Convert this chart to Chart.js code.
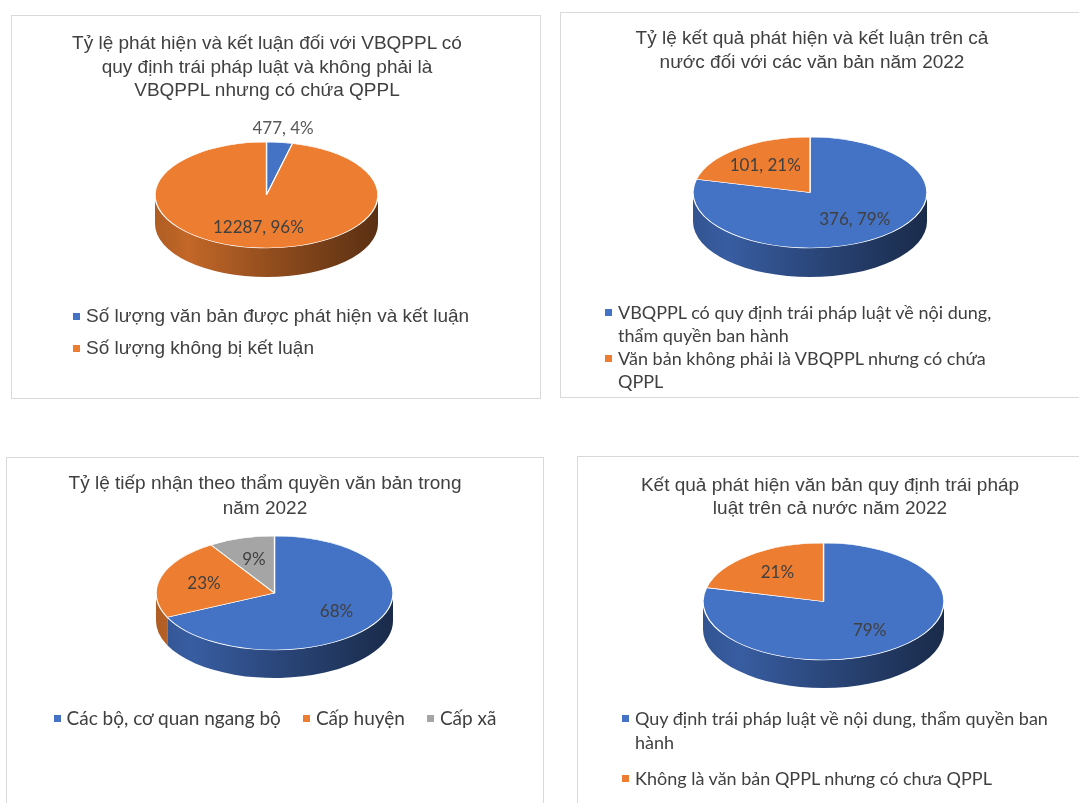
<!DOCTYPE html>
<html>
<head>
<meta charset="utf-8">
<script src="https://cdn.jsdelivr.net/npm/chart.js@4.4.1/dist/chart.umd.min.js"></script>
<style>
  html, body { margin: 0; padding: 0; background: #fff; width: 1079px; height: 803px; overflow: hidden; position: relative; }
  .panel { position: absolute; border: 1px solid #d9d9d9; box-sizing: border-box; background: #fff; overflow: hidden; }
  .panel canvas { position: absolute; left: 0; top: 0; }
  .title { position: absolute; text-align: center; color: #404040; font-family: "Liberation Sans", Arial, sans-serif; font-size: 19px; white-space: nowrap; }
  .legend { position: absolute; color: #404040; display: flex; }
  .legend .item { display: flex; align-items: flex-start; }
  .legend .mark { width: 7px; height: 7px; flex: none; margin-right: 6px; }
</style>
</head>
<body>
<script>
// Chart data
const chart1Title = ['Tỷ lệ phát hiện và kết luận đối với VBQPPL có', 'quy định trái pháp luật và không phải là', 'VBQPPL nhưng có chứa QPPL'];
const chart1Labels = ['Số lượng văn bản được phát hiện và kết luận', 'Số lượng không bị kết luận'];
const chart1Values = [477, 12287];

const chart2Title = ['Tỷ lệ kết quả phát hiện và kết luận trên cả', 'nước đối với các văn bản năm 2022'];
const chart2Labels = ['VBQPPL có quy định trái pháp luật về nội dung, thẩm quyền ban hành', 'Văn bản không phải là VBQPPL nhưng có chứa QPPL'];
const chart2Values = [376, 101];

const chart3Title = ['Tỷ lệ tiếp nhận theo thẩm quyền văn bản trong', 'năm 2022'];
const chart3Labels = ['Các bộ, cơ quan ngang bộ', 'Cấp huyện', 'Cấp xã'];
const chart3Values = [68, 23, 9];

const chart4Title = ['Kết quả phát hiện văn bản quy định trái pháp', 'luật trên cả nước năm 2022'];
const chart4Labels = ['Quy định trái pháp luật về nội dung, thẩm quyền ban hành', 'Không là văn bản QPPL nhưng có chưa QPPL'];
const chart4Values = [376, 101];

const sliceColors = ['#4472C4', '#ED7D31', '#A5A5A5'];

// darken a hex colour
function shade(hex, f) {
  const n = parseInt(hex.slice(1), 16);
  return 'rgb(' + Math.round((n >> 16 & 255) * f) + ',' + Math.round((n >> 8 & 255) * f) + ',' + Math.round((n & 255) * f) + ')';
}

// Fake 3D pie: draw the side walls, then squash the library's arcs into an ellipse
const pie3d = {
  id: 'pie3d',
  beforeDatasetsDraw(chart, args, opts) {
    const a = chart.chartArea;
    const ctx = chart.ctx;
    const depth = opts.depth;
    const rx = (a.right - a.left) / 2;
    const ry = (a.bottom - a.top - depth) / 2;
    const ex = (a.left + a.right) / 2;
    const ey = a.top + ry;
    chart.$ell = { rx, ry, ex, ey };
    const meta = chart.getDatasetMeta(0);
    const colors = chart.data.datasets[0].backgroundColor;

    meta.data.forEach((arc, i) => {
      const lo = Math.max(arc.startAngle, 0);
      const hi = Math.min(arc.endAngle, Math.PI);
      if (hi <= lo) return;
      const g = ctx.createLinearGradient(ex - rx, 0, ex + rx, 0);
      g.addColorStop(0, shade(colors[i], 0.74));
      g.addColorStop(0.15, shade(colors[i], 0.82));
      g.addColorStop(0.55, shade(colors[i], 0.6));
      g.addColorStop(1, shade(colors[i], 0.38));
      ctx.beginPath();
      ctx.ellipse(ex, ey, rx, ry, 0, lo, hi);
      ctx.ellipse(ex, ey + depth, rx, ry, 0, hi, lo, true);
      ctx.closePath();
      ctx.fillStyle = g;
      ctx.fill();
    });

    const arc0 = meta.data[0];
    ctx.save();
    ctx.translate(ex, ey);
    ctx.scale(rx / arc0.outerRadius, ry / arc0.outerRadius);
    ctx.translate(-arc0.x, -arc0.y);
  },
  afterDatasetsDraw(chart, args, opts) {
    const ctx = chart.ctx;
    ctx.restore();
    const { rx, ry, ex, ey } = chart.$ell;
    const values = chart.data.datasets[0].data;
    const total = values.reduce((s, v) => s + v, 0);
    const meta = chart.getDatasetMeta(0);
    ctx.save();
    ctx.font = '17px Lato, "Liberation Sans", sans-serif';
    ctx.textAlign = 'center';
    ctx.textBaseline = 'middle';
    meta.data.forEach((arc, i) => {
      const pct = Math.round(values[i] / total * 100);
      const mid = (arc.startAngle + arc.endAngle) / 2;
      const outside = pct < 5;
      const k = outside ? 1.27 : 0.62;
      const text = opts.showValue ? values[i] + ', ' + pct + '%' : pct + '%';
      ctx.fillStyle = outside ? '#595959' : '#404040';
      ctx.fillText(text, ex + k * rx * Math.cos(mid), ey + k * ry * Math.sin(mid));
    });
    ctx.restore();
  }
};

// panel layout (positions / styles only)
const panels = [
  { title: chart1Title, labels: chart1Labels, values: chart1Values, showValue: true,
    box: [11, 15, 530, 384], pad: { left: 143, top: 126, right: 162, bottom: 121 }, depth: 29,
    titleX: 255, titleTop: 15, titleLH: 23.5,
    legend: { dir: 'column', left: 61, top: 288, font: '19px "Liberation Sans", Arial, sans-serif', lh: 24, gap: 8, maxw: 460 } },
  { title: chart2Title, labels: chart2Labels, values: chart2Values, showValue: true,
    box: [560, 12, 540, 386], pad: { left: 132, top: 124, right: 172, bottom: 120 }, depth: 29,
    titleX: 251, titleTop: 13, titleLH: 24,
    legend: { dir: 'column', left: 44, top: 288, font: '18px Lato, sans-serif', lh: 23, gap: 0, maxw: 405 } },
  { title: chart3Title, labels: chart3Labels, values: chart3Values, showValue: false,
    box: [6, 457, 538, 360], pad: { left: 149, top: 78, right: 150, bottom: 138 }, depth: 28,
    titleX: 258, titleTop: 12, titleLH: 25,
    legend: { dir: 'row', left: 0, top: 248, font: '19px Lato, sans-serif', lh: 24, gap: 22, maxw: 400 } },
  { title: chart4Title, labels: chart4Labels, values: chart4Values, showValue: false,
    box: [577, 456, 520, 360], pad: { left: 125, top: 86, right: 152, bottom: 127 }, depth: 28,
    titleX: 252, titleTop: 16, titleLH: 23,
    legend: { dir: 'column', left: 44, top: 249, font: '18px Lato, sans-serif', lh: 24, gap: 12, maxw: 415 } }
];

panels.forEach(cfg => {
  const [x, y, w, h] = cfg.box;
  const panel = document.createElement('div');
  panel.className = 'panel';
  Object.assign(panel.style, { left: x + 'px', top: y + 'px', width: w + 'px', height: h + 'px' });
  document.body.appendChild(panel);

  const canvas = document.createElement('canvas');
  canvas.width = w - 2;
  canvas.height = h - 2;
  canvas.style.width = (w - 2) + 'px';
  canvas.style.height = (h - 2) + 'px';
  panel.appendChild(canvas);

  const title = document.createElement('div');
  title.className = 'title';
  Object.assign(title.style, { left: (cfg.titleX - 260) + 'px', width: '520px', top: cfg.titleTop + 'px', lineHeight: cfg.titleLH + 'px' });
  cfg.title.forEach(line => {
    const d = document.createElement('div');
    d.textContent = line;
    title.appendChild(d);
  });
  panel.appendChild(title);

  const lg = cfg.legend;
  const legend = document.createElement('div');
  legend.className = 'legend';
  Object.assign(legend.style, { top: lg.top + 'px', font: lg.font, lineHeight: lg.lh + 'px', flexDirection: lg.dir, gap: lg.gap + 'px' });
  if (lg.dir === 'row') {
    Object.assign(legend.style, { left: '0px', width: (w - 2) + 'px', justifyContent: 'center' });
  } else {
    legend.style.left = lg.left + 'px';
  }
  cfg.labels.forEach((label, i) => {
    const item = document.createElement('div');
    item.className = 'item';
    const mark = document.createElement('span');
    mark.className = 'mark';
    mark.style.background = sliceColors[i];
    mark.style.marginTop = ((lg.lh - 7) / 2) + 'px';
    const txt = document.createElement('span');
    txt.textContent = label;
    txt.style.maxWidth = lg.maxw + 'px';
    item.appendChild(mark);
    item.appendChild(txt);
    legend.appendChild(item);
  });
  panel.appendChild(legend);

  new Chart(canvas, {
    type: 'pie',
    data: {
      labels: cfg.labels,
      datasets: [{
        data: cfg.values,
        backgroundColor: sliceColors.slice(0, cfg.values.length),
        borderColor: '#ffffff',
        borderWidth: 0.8,
        clip: false
      }]
    },
    options: {
      responsive: false,
      animation: false,
      events: [],
      devicePixelRatio: 1,
      layout: { padding: cfg.pad },
      plugins: {
        legend: { display: false },
        tooltip: { enabled: false },
        title: { display: false },
        pie3d: { depth: cfg.depth, showValue: cfg.showValue }
      }
    },
    plugins: [pie3d]
  });
});
</script>
</body>
</html>
